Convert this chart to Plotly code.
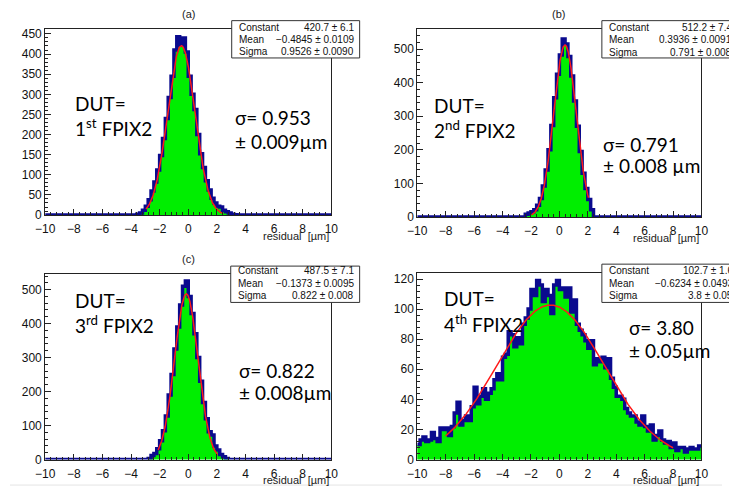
import numpy as np
import plotly.graph_objects as go

W, H = 729, 495

# ---------------- data ----------------
bin_lo, bin_hi, n_bins = -10.0, 10.0, 100

# panel (a): counts starting at bin centre a_first
a_first = -3.5
a_counts = [2, 5, 12, 22, 38, 60, 82, 112, 148, 190, 240, 292, 345, 410, 443, 422,
            440, 405, 345, 300, 262, 200, 152, 118, 85, 62, 42, 30, 22, 20, 12, 8, 5, 2, 1]
# panel (b)
b_first = -2.3
b_counts = [8, 12, 16, 22, 35, 55, 92, 140, 200, 272, 355, 425, 482, 530, 515, 478,
            420, 345, 270, 195, 130, 85, 52, 22]
# panel (c)
c_first = -2.7
c_counts = [3, 12, 18, 32, 55, 85, 128, 190, 250, 325, 390, 455, 510, 525, 480, 430,
            370, 300, 230, 168, 120, 82, 72, 40, 28, 15, 8, 3]
# panel (d): all 100 bins
d_counts = [10, 13, 15, 12, 13, 18, 14, 12, 21, 20, 21, 16, 22, 31, 38, 23, 26, 29, 26, 35,
            48, 37, 42, 47, 40, 44, 47, 53, 57, 53, 68, 70, 85, 83, 75, 81, 77, 90, 94, 100,
            113, 109, 119, 116, 105, 113, 109, 97, 116, 119, 113, 114, 108, 114, 98, 106, 90, 86, 83, 79,
            74, 79, 63, 67, 65, 68, 61, 67, 54, 48, 42, 42, 40, 34, 31, 29, 29, 25, 23, 29,
            22, 19, 23, 13, 16, 19, 13, 11, 12, 8, 11, 6, 8, 8, 5, 7, 8, 7, 7, 9]

# Gaussian fit results (Constant, Mean, Sigma) and fit ranges
fit_const = [420.7, 512.2, 487.5, 102.7]
fit_mean = [-0.4845, 0.3936, -0.1373, -0.6234]
fit_sigma = [0.9526, 0.791, 0.822, 3.8]
fit_range = [(-2.95, 2.45), (-1.95, 2.05), (-2.1, 2.05), (-8.0, 8.0)]

stat_const_txt = ["420.7 ± 6.1", "512.2 ± 7.4", "487.5 ± 7.1", "102.7 ± 1.6"]
stat_mean_txt = ["−0.4845 ± 0.0109", "0.3936 ± 0.0091", "−0.1373 ± 0.0095", "−0.6234 ± 0.0493"]
stat_sigma_txt = ["0.9526 ± 0.0090", "0.791 ± 0.008", "0.822 ± 0.008", "3.8 ± 0.05"]

panel_titles = ["(a)", "(b)", "(c)", ""]
dut_labels = ["1<sup>st</sup> FPIX2", "2<sup>nd</sup> FPIX2", "3<sup>rd</sup> FPIX2", "4<sup>th</sup> FPIX2"]
sigma_l1 = ["σ= 0.953", "σ= 0.791", "σ= 0.822", "σ= 3.80"]
sigma_l2 = ["± 0.009µm", "± 0.008 µm", "± 0.008µm", "± 0.05µm"]

y_max = [461, 561, 546, 124]
y_dtick = [50, 100, 100, 20]
y_minor = [10, 20, 20, 4]

# ---------------- layout geometry (pixels) ----------------
frames = [(36, 28, 329, 217), (417, 27, 708, 219), (36, 277, 329, 466), (417, 276, 708, 466)]
stat_boxes = [(227, 19, 358, 57), (606, 19, 760, 57), (226, 269, 358, 306), (606, 267, 760, 306)]
stat_rows = [(25.5, 38, 50.5), (25.5, 38.3, 51), (273.5, 286.5, 298.5), (273, 286.5, 298.5)]
stat_right = [354, 741, 354, 742]
title_pos = [(183, 12), (562, 12), (183, 262), (562, 262)]
dut_pos = [(65, 103, 128), (432, 105, 130), (65, 304, 328), (442, 302, 327)]
sig_pos = [(228, 118, 142), (605, 145, 167), (232, 375, 398), (632, 332, 355)]

GREEN = "#00ee00"
BLUE = "#0a0a8e"
RED = "#ff1a1a"
TICKFONT = dict(family="Liberation Sans, Arial, sans-serif", size=12, color="#111")
BIGFONT = dict(family="Lato, 'Open Sans', sans-serif", size=19, color="black")
STATFONT = dict(family="Liberation Sans, Arial, sans-serif", size=10, color="#111")


def px(x):
    return x / W


def py(y):
    return 1 - y / H


edges = np.linspace(bin_lo, bin_hi, n_bins + 1)
centers = 0.5 * (edges[:-1] + edges[1:])
bw = edges[1] - edges[0]


def fill_hist(first, counts):
    full = np.zeros(n_bins)
    i0 = int(round((first - bin_lo - bw / 2) / bw))
    full[i0:i0 + len(counts)] = counts
    return full


hists = [fill_hist(a_first, a_counts), fill_hist(b_first, b_counts),
         fill_hist(c_first, c_counts), np.array(d_counts, dtype=float)]

fig = go.Figure()
annotations = []
shapes = []

for i in range(4):
    sfx = "" if i == 0 else str(i + 1)
    xa, ya = "x" + sfx, "y" + sfx
    h = hists[i]
    fig.add_trace(go.Bar(x=centers, y=h, width=bw, marker=dict(color=GREEN, line=dict(width=0)),
                         xaxis=xa, yaxis=ya, showlegend=False))
    fig.add_trace(go.Scatter(x=edges, y=np.append(h, h[-1]), mode="lines",
                             line=dict(color=BLUE, width=3.5, shape="hv"),
                             xaxis=xa, yaxis=ya, showlegend=False))
    lo, hi = fit_range[i]
    xf = np.linspace(lo, hi, 300)
    yf = fit_const[i] * np.exp(-0.5 * ((xf - fit_mean[i]) / fit_sigma[i]) ** 2)
    fig.add_trace(go.Scatter(x=xf, y=yf, mode="lines", line=dict(color=RED, width=1.5),
                             xaxis=xa, yaxis=ya, showlegend=False))

    x0, y0, x1, y1 = frames[i]
    axis_common = dict(showgrid=False, zeroline=False, showline=True, mirror=True,
                       linecolor="#222", linewidth=1, ticks="inside", tickcolor="#222",
                       tickfont=TICKFONT)
    fig.update_layout(**{
        ("xaxis" + sfx): dict(domain=[px(x0), px(x1)], anchor=ya, range=[bin_lo, bin_hi],
                              tick0=-10, dtick=2, ticklen=6, ticklabelstandoff=3,
                              minor=dict(ticks="inside", ticklen=3, dtick=0.4, tickcolor="#222"),
                              **axis_common),
        ("yaxis" + sfx): dict(domain=[py(y1), py(y0)], anchor=xa, range=[0, y_max[i]],
                              tick0=0, dtick=y_dtick[i], ticklen=6,
                              minor=dict(ticks="inside", ticklen=3, dtick=y_minor[i], tickcolor="#222"),
                              **axis_common),
    })

    # axis title
    annotations.append(dict(x=px(x1), y=py(y1 + 21), xref="paper", yref="paper",
                            text="residual  [µm]", showarrow=False, xanchor="right", yanchor="middle",
                            font=dict(family="Liberation Sans, Arial, sans-serif", size=11, color="#222")))
    # panel title
    if panel_titles[i]:
        tx, ty = title_pos[i]
        annotations.append(dict(x=px(tx), y=py(ty), xref="paper", yref="paper", text=panel_titles[i],
                                showarrow=False, xanchor="center", yanchor="middle",
                                font=dict(family="Liberation Sans, Arial, sans-serif", size=11, color="#222")))
    # stats box
    bx0, by0, bx1, by1 = stat_boxes[i]
    shapes.append(dict(type="rect", xref="paper", yref="paper", x0=px(bx0), x1=px(bx1),
                       y0=py(by1), y1=py(by0), fillcolor="white", line=dict(color="#333", width=1),
                       layer="above"))
    for lab, val, ry in zip(["Constant", "Mean", "Sigma"],
                            [stat_const_txt[i], stat_mean_txt[i], stat_sigma_txt[i]], stat_rows[i]):
        annotations.append(dict(x=px(bx0 + 5), y=py(ry), xref="paper", yref="paper", text=lab,
                                showarrow=False, xanchor="left", yanchor="middle", font=STATFONT))
        annotations.append(dict(x=px(stat_right[i]), y=py(ry), xref="paper", yref="paper", text=val,
                                showarrow=False, xanchor="right", yanchor="middle", font=STATFONT))
    # DUT labels
    dx, dy1, dy2 = dut_pos[i]
    annotations.append(dict(x=px(dx), y=py(dy1), xref="paper", yref="paper", text="DUT=",
                            showarrow=False, xanchor="left", yanchor="middle", font=BIGFONT))
    annotations.append(dict(x=px(dx), y=py(dy2), xref="paper", yref="paper", text=dut_labels[i],
                            showarrow=False, xanchor="left", yanchor="middle", font=BIGFONT))
    sx, sy1, sy2 = sig_pos[i]
    annotations.append(dict(x=px(sx), y=py(sy1), xref="paper", yref="paper", text=sigma_l1[i],
                            showarrow=False, xanchor="left", yanchor="middle", font=BIGFONT))
    annotations.append(dict(x=px(sx), y=py(sy2), xref="paper", yref="paper", text=sigma_l2[i],
                            showarrow=False, xanchor="left", yanchor="middle", font=BIGFONT))

# faint slide line at the bottom
shapes.append(dict(type="line", xref="paper", yref="paper", x0=0, x1=1, y0=py(492), y1=py(492),
                   line=dict(color="#e4e4e4", width=1)))

fig.update_layout(width=W, height=H, margin=dict(l=0, r=0, t=0, b=0),
                  paper_bgcolor="white", plot_bgcolor="white", bargap=0, barmode="overlay",
                  annotations=annotations, shapes=shapes)

fig.write_html("out.html")
